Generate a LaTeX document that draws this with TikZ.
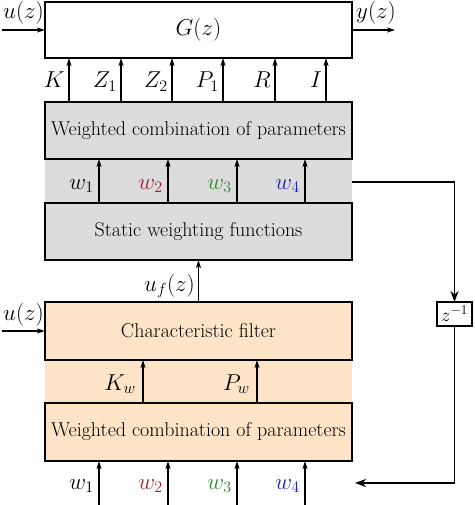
\documentclass[tikz,border=0pt]{standalone}
\usepackage{fix-cm}
\usetikzlibrary{arrows.meta,calc}
\definecolor{grayfill}{HTML}{DCDCDC}
\definecolor{orfill}{HTML}{FDE4C6}
\definecolor{wred}{HTML}{A0202A}
\definecolor{wgreen}{HTML}{2A8A2A}
\definecolor{wblue}{HTML}{2020B0}
\begin{document}
\begin{tikzpicture}[x=1pt,y=-1pt,
  blk/.style={draw,line width=2.4pt,minimum width=307pt,inner sep=0pt,outer sep=0pt,font=\fontsize{20}{24}\selectfont},
  sig/.style={-{Stealth[length=8pt,width=5pt,inset=2pt]},line width=1.4pt},
  fbarrow/.style={-{Stealth[length=11pt,width=8pt,inset=3.5pt]},line width=1.9pt},
  lab/.style={inner sep=0pt,font=\fontsize{23}{27}\selectfont},
]
\useasboundingbox (0,0) rectangle (474,505);
\fill[grayfill] (45,102) rectangle (352,260);
\fill[orfill] (45,302) rectangle (352,461);
\node[blk,fill=white,minimum height=56pt] (G) at (198.5,30) {\fontsize{23}{27}\selectfont$G(z)$};
\node[blk,minimum height=57pt] (WC1) at (198.5,130.5) {Weighted combination of parameters};
\node[blk,minimum height=57pt] (SW) at (198.5,231.5) {Static weighting functions};
\node[blk,minimum height=58pt] (CF) at (198.5,331) {Characteristic filter};
\node[blk,minimum height=58pt] (WC2) at (198.5,432) {Weighted combination of parameters};
\node[draw,line width=2.2pt,minimum width=35pt,minimum height=24pt,inner sep=0pt,outer sep=0pt,font=\fontsize{19}{22}\selectfont] (Z) at (454.5,314) {$z^{-1}$};
% inputs / outputs
\coordinate (uin) at (2,30);
\coordinate (yout) at (395,30);
\coordinate (uin2) at (2,331);
\draw[sig] (uin) -- (G.west);
\draw[sig] (G.east) -- (yout);
\draw[sig] (uin2) -- (CF.west);
\node[lab,anchor=base east] (ulab) at (44,19) {$u(z)$};
\node[lab,anchor=base west] (ylab) at (356,19) {$y(z)$};
\node[lab,anchor=base east] (ulab2) at (44,320) {$u(z)$};
% parameter arrows
\foreach \x/\t/\n in {69/K/a,121/Z_1/b,172/Z_2/c,223/P_1/d,275/R/e,326/I/f}{
  \coordinate (p\n) at (\x,0);
  \draw[sig] (WC1.north -| p\n) -- (G.south -| p\n);
  \node[lab,anchor=base east] (pl\n) at (\x-4,88) {$\t$};
}
% w arrows in gray band and bottom
\foreach \x/\t/\n in {99/{w_1}/a,168/{\color{wred}w_2}/b,237/{\color{wgreen}w_3}/c,305/{\color{wblue}w_4}/d}{
  \coordinate (w\n) at (\x,505);
  \draw[sig] (SW.north -| w\n) -- (WC1.south -| w\n);
  \node[lab,anchor=base east] (wl\n) at (\x-5,189) {$\t$};
  \draw[sig] (w\n) -- (WC2.south -| w\n);
  \node[lab,anchor=base east] (wb\n) at (\x-5,489) {$\t$};
}
% u_f
\draw[sig] (CF.north) -- (SW.south);
\node[lab,anchor=base east] (uflab) at (195,291) {$u_f(z)$};
% K_w, P_w
\coordinate (kw) at (143,0);
\coordinate (pw) at (257,0);
\draw[sig] (WC2.north -| kw) -- (CF.south -| kw);
\draw[sig] (WC2.north -| pw) -- (CF.south -| pw);
\node[lab,anchor=base east] (kwl) at (136,390) {$K_w$};
\node[lab,anchor=base east] (pwl) at (250,390) {$P_w$};
% feedback
\coordinate (fbs) at (352,182);
\coordinate (fbe) at (355,483);
\draw[fbarrow] (fbs) -| (Z.north);
\draw[fbarrow] (Z.south) |- (fbe);
\end{tikzpicture}
\end{document}
